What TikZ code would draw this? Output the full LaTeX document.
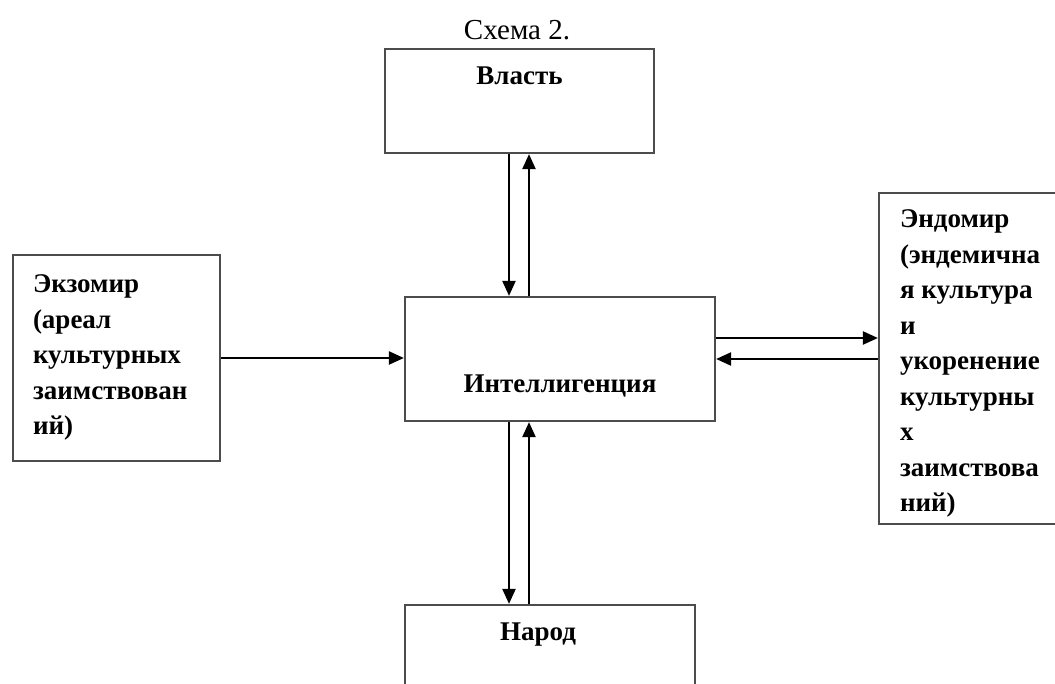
\documentclass[tikz,border=0pt]{standalone}
\usepackage{fontspec}
\setmainfont{Liberation Serif}
\usetikzlibrary{arrows.meta}

\begin{document}
\begin{tikzpicture}[x=1pt,y=-1pt,>={Triangle[length=15pt,width=13pt]},
                    box/.style={draw=black!70,line width=2.2pt,inner sep=0pt,
                                font=\fontsize{27}{35.5}\bfseries\selectfont},
                    arr/.style={->,line width=2.2pt}
                   ]
    \clip (0,0) rectangle (1055,684);

    \node[font=\fontsize{29}{34}\selectfont,anchor=base](title) at (517,40) {Схема 2.};

    \node[box,minimum width=269pt,text height=36pt,text depth=68pt](vlast) at (519.5,101) {Власть};
    \node[box,minimum width=310pt,text height=96pt,text depth=28pt](intel) at (560,359) {Интеллигенция};
    \node[box,inner xsep=20pt,text height=38pt,text depth=168pt](ekzo) at (116.5,358) {%
        \parbox[t]{167pt}{\raggedright
            Экзомир\\
            (ареал\\
            культурных\\
            заимствован\\
            ий)}};
    \node[box,inner xsep=21pt,text height=35pt,text depth=296pt](endo) at (970.5,358.5) {%
        \parbox[t]{141pt}{\raggedright
            Эндомир\\
            (эндемична\\
            я~культура\\
            и\\
            укоренение\\
            культурны\\
            х\\
            заимствова\\
            ний)}};
    \node[box,minimum width=290pt,text height=35pt,text depth=85pt](narod) at (550,665) {\hspace*{-24pt}Народ};

    \path[arr] ([xshift=-10.5pt]vlast.south) edge ([xshift=-10.5pt]vlast.south |- intel.north)
    ([xshift=9.5pt]vlast.south |- intel.north) edge ([xshift=9.5pt]vlast.south)
    (ekzo.east) edge (ekzo.east -| intel.west)
    ([yshift=21pt]intel.east) edge ([yshift=21pt]intel.east -| endo.west)
    (intel.east -| endo.west) edge (intel.east)
    ([xshift=-51pt]intel.south) edge ([xshift=-51pt]intel.south |- narod.north)
    ([xshift=-31pt]intel.south |- narod.north) edge ([xshift=-31pt]intel.south);

\end{tikzpicture}
\end{document}
